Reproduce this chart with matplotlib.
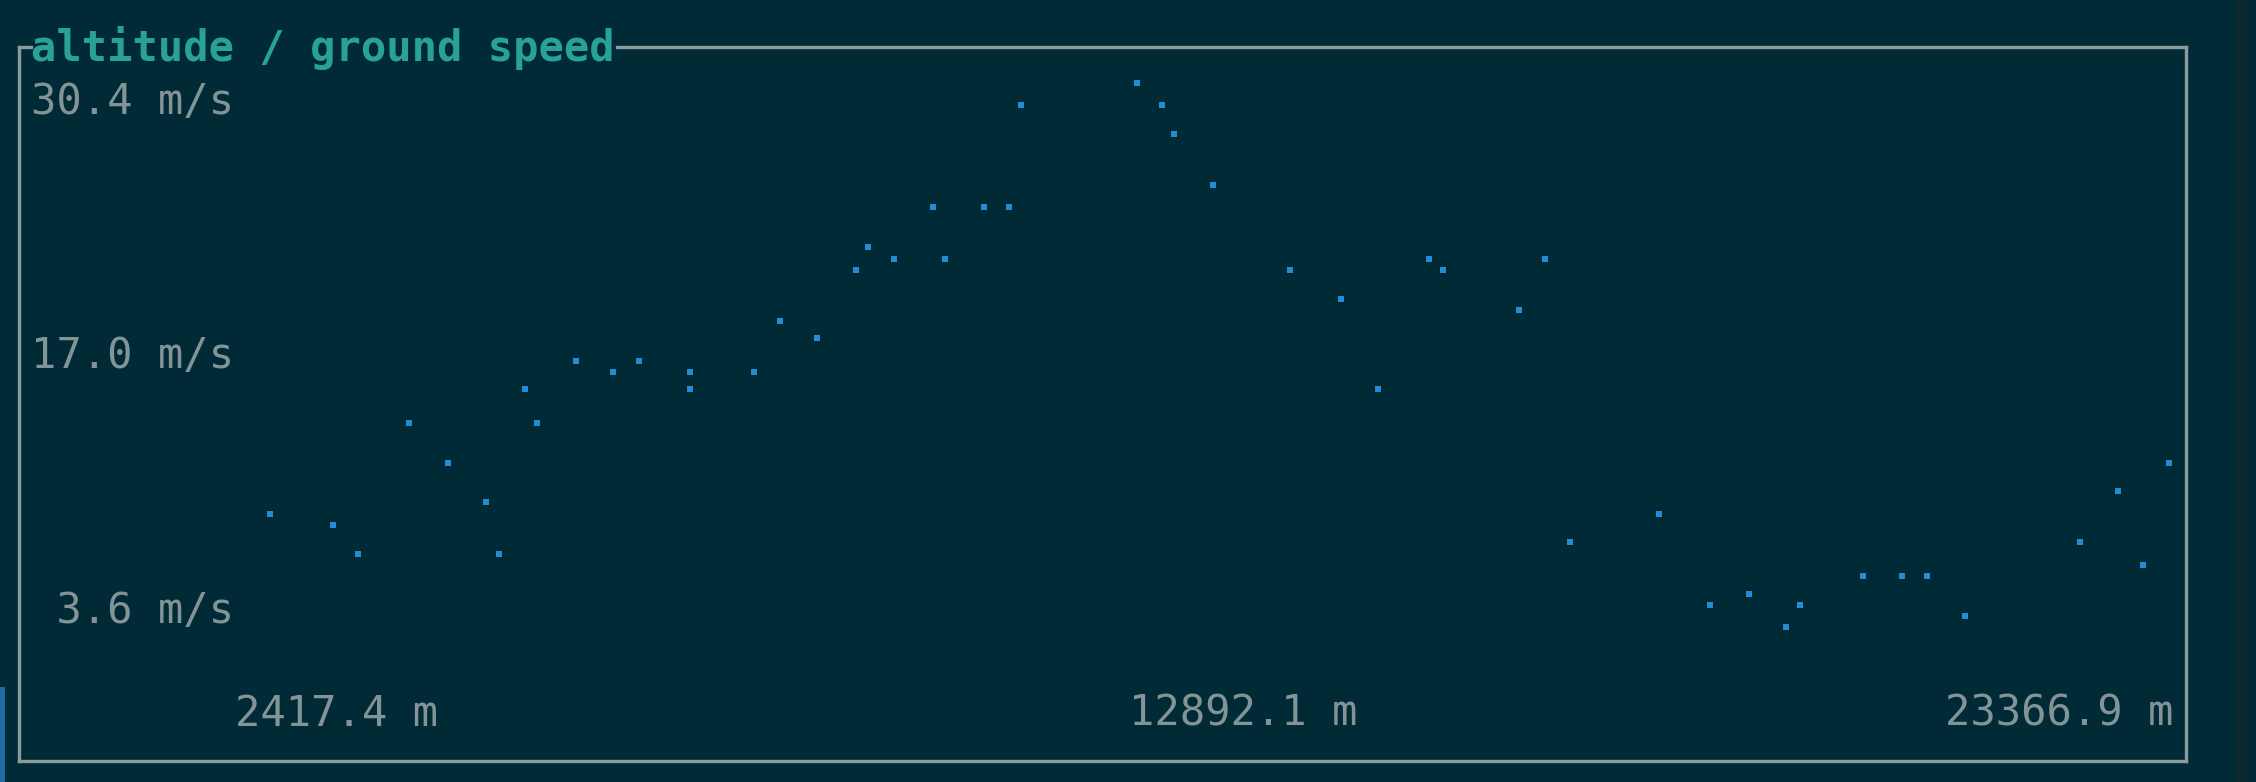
import matplotlib
matplotlib.use("Agg")
import matplotlib.pyplot as plt
from matplotlib.lines import Line2D
from matplotlib.patches import Rectangle

# ---- data ----
distance_m = [2417.4, 3112.4, 3391.5, 3954.1, 4387.7, 4800.3, 4950.3, 5230.5, 5362.9, 5793.1,
              6207.9, 6488.1, 7050.8, 7050.8, 7763.4, 8043.6, 8455.1, 8888.7, 9021.0, 9301.2,
              9731.5, 9863.9, 10294.1, 10576.5, 10705.6, 11982.0, 12264.4, 12393.5, 12827.0, 13669.8,
              14232.5, 14647.3, 15206.6, 15357.7, 16202.7, 16482.9, 16765.3, 17740.6, 18303.2, 18733.4,
              19144.9, 19296.1, 19991.1, 20421.3, 20703.7, 21116.3, 22391.6, 22804.2, 23086.6, 23366.9]
speed_ms = [9.18, 8.62, 7.22, 13.67, 11.70, 9.74, 7.22, 15.32, 13.67, 16.73,
            16.17, 16.73, 16.17, 15.32, 16.17, 18.69, 17.82, 21.21, 22.30, 21.74,
            24.27, 21.74, 24.27, 24.27, 29.29, 30.4, 29.29, 27.88, 25.38, 21.21,
            19.78, 15.32, 21.74, 21.21, 19.24, 21.74, 7.77, 9.18, 4.71, 5.25,
            3.6, 4.71, 6.12, 6.12, 6.12, 4.16, 7.77, 10.29, 6.68, 11.70]
title = "altitude / ground speed"
y_labels = ["30.4 m/s", "17.0 m/s", " 3.6 m/s"]
x_labels = ["2417.4 m", "12892.1 m", "23366.9 m"]
x_bounds = [2417.4, 23366.9]
y_bounds = [3.6, 30.4]

BG = "#002b36"
FG = "#839496"
BORDER = "#8a9b9b"
TITLE_C = "#2aa198"
DOT = "#268bd2"

W, H = 2256, 782
fig = plt.figure(figsize=(W / 100, H / 100), dpi=100, facecolor=BG)

# overlay in pixel coordinates for the terminal frame and labels
ov = fig.add_axes([0, 0, 1, 1])
ov.set_xlim(0, W)
ov.set_ylim(H, 0)
ov.axis("off")
ov.set_facecolor(BG)

# side strips
ov.add_patch(Rectangle((0, 687), 4.5, H - 687, color="#1f6aa0", lw=0))
ov.add_patch(Rectangle((2236, 0), 11, H, color="#0c2830", lw=0))

lw = 2.4
# border
ov.add_line(Line2D([18.5, 18.5], [46.5, 760.5], color=BORDER, lw=lw, solid_capstyle="projecting"))
ov.add_line(Line2D([18.5, 2185.7], [760.5, 760.5], color=BORDER, lw=lw, solid_capstyle="projecting"))
ov.add_line(Line2D([2185.7, 2185.7], [46.5, 760.5], color=BORDER, lw=lw, solid_capstyle="projecting"))
ov.add_line(Line2D([18.5, 31], [46.5, 46.5], color=BORDER, lw=lw, solid_capstyle="projecting"))
ov.add_line(Line2D([617, 2185.7], [46.5, 46.5], color=BORDER, lw=lw, solid_capstyle="projecting"))

mono = "DejaVu Sans Mono"
FS = 30.3
ov.text(31, 48, title, color=TITLE_C, fontsize=FS, fontweight="bold",
        family=mono, ha="left", va="center")

for lab, yc in zip(y_labels, [102, 356.5, 611]):
    ov.text(31, yc, lab, color=FG, fontsize=FS, family=mono, ha="left", va="center")

ov.text(235, 714, x_labels[0], color=FG, fontsize=FS, family=mono, ha="left", va="center")
ov.text(1243, 714, x_labels[1], color=FG, fontsize=FS, family=mono, ha="center", va="center")
ov.text(2173, 714, x_labels[2], color=FG, fontsize=FS, family=mono, ha="right", va="center")

# data axes
left = 269.7 / W
right = 2168.7 / W
bottom = (H - 627.1) / H
top = (H - 82.95) / H
ax = fig.add_axes([left, bottom, right - left, top - bottom])
ax.set_xlim(*x_bounds)
ax.set_ylim(*y_bounds)
ax.axis("off")
ax.patch.set_alpha(0)
ax.plot(distance_m, speed_ms, linestyle="none", marker="s", markersize=4.5,
        markerfacecolor=DOT, markeredgewidth=0, clip_on=False)

fig.savefig("out.png", dpi=100, facecolor=BG)
